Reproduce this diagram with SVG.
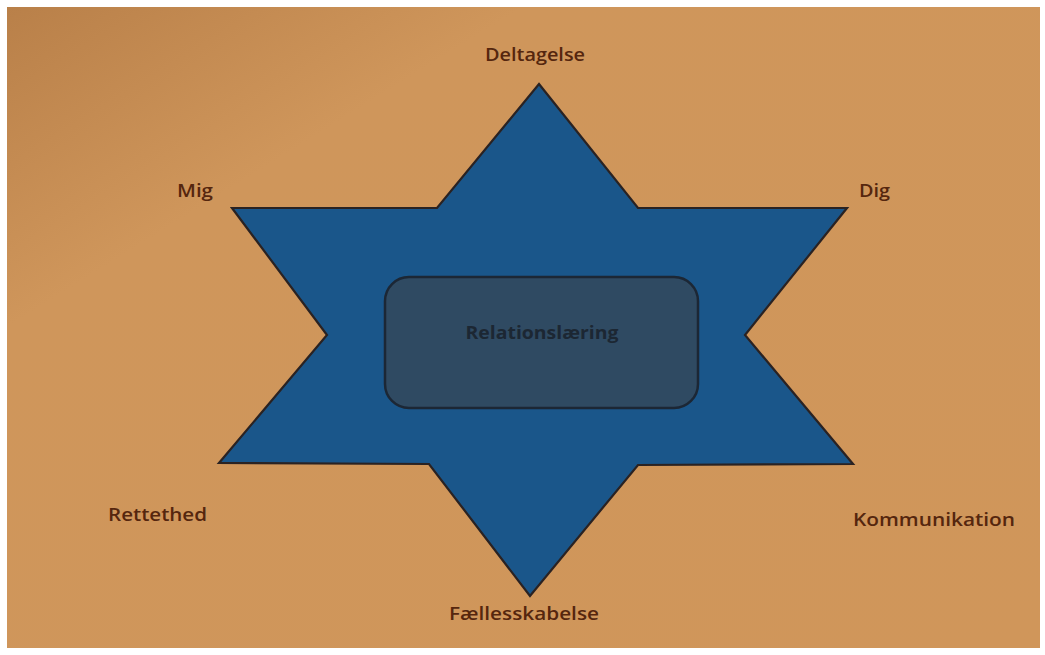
<svg xmlns="http://www.w3.org/2000/svg" width="1045" height="655" viewBox="0 0 1045 655">
<defs>
<linearGradient id="bg" x1="0" y1="0" x2="1" y2="1">
<stop offset="0" stop-color="#b98049"/>
<stop offset="0.25" stop-color="#cf965b"/>
<stop offset="1" stop-color="#d0965a"/>
</linearGradient>
<style>
.lbl{font-family:"Open Sans","Noto Sans","Liberation Sans",sans-serif;font-size:18px;font-weight:600;fill:#55260e;}
.center{font-family:"Open Sans","Noto Sans","Liberation Sans",sans-serif;font-size:17px;font-weight:bold;fill:#1c2733;}
.star{fill:#1a568a;stroke:#2a2222;stroke-width:2.2;stroke-linejoin:miter;}
.box{fill:#2f4a62;stroke:#1c2735;stroke-width:2.5;}
</style>
</defs>
<rect x="0" y="0" width="1045" height="655" fill="#ffffff"/>
<rect x="7" y="7" width="1033" height="641" fill="url(#bg)"/>
<g id="star">
<polygon class="star" points="539,84 638,208 847,208 745,335 853,464 638,465 530,596 429,464 219,463 327,335 232,208 437,208"/>
</g>
<g id="connectors"></g>
<g id="center-node">
<rect class="box" x="385" y="277" width="313" height="131" rx="24" ry="24"/>
<text class="center" x="542" y="339" text-anchor="middle" textLength="153" lengthAdjust="spacingAndGlyphs">Relationslæring</text>
</g>
<g id="deltagelse"><text class="lbl" x="485" y="61" textLength="100" lengthAdjust="spacingAndGlyphs">Deltagelse</text></g>
<g id="mig"><text class="lbl" x="177" y="197" textLength="36" lengthAdjust="spacingAndGlyphs">Mig</text></g>
<g id="dig"><text class="lbl" x="859" y="197" textLength="31" lengthAdjust="spacingAndGlyphs">Dig</text></g>
<g id="rettethed"><text class="lbl" x="108" y="521" textLength="99" lengthAdjust="spacingAndGlyphs">Rettethed</text></g>
<g id="kommunikation"><text class="lbl" x="853" y="526" textLength="162" lengthAdjust="spacingAndGlyphs">Kommunikation</text></g>
<g id="faellesskabelse"><text class="lbl" x="449" y="620" textLength="150" lengthAdjust="spacingAndGlyphs">Fællesskabelse</text></g>
</svg>
